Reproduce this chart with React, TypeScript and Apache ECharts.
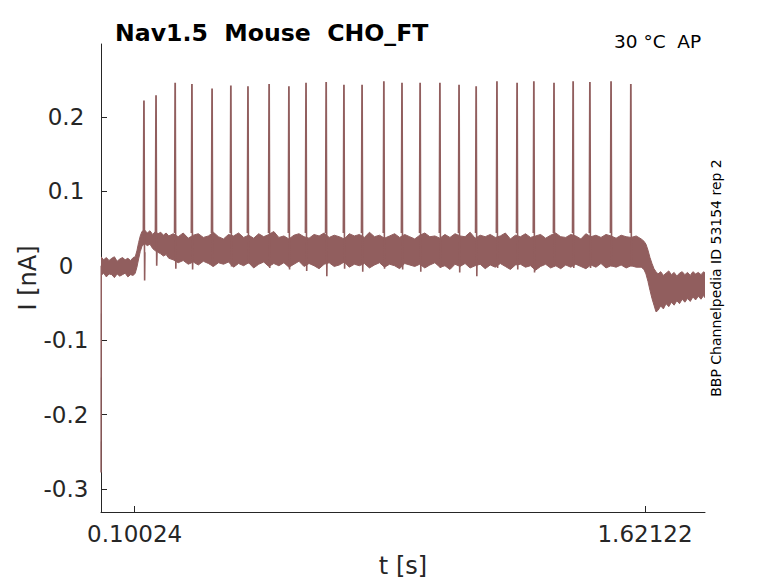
import React, { useEffect, useRef } from "react";
import * as echarts from "echarts";

const TRACE_COLOR = "#915e5e";
const AXIS_COLOR = "#262626";
const FONT = '"DejaVu Sans", sans-serif';

const xTicks = [0.10024, 1.62122];
const yTicks = [-0.3, -0.2, -0.1, 0, 0.1, 0.2];

// Action-potential-clamp spikes: time [s], peak [nA], trough [nA]
const spikeT = [0.128, 0.164, 0.221, 0.271, 0.331, 0.387, 0.438, 0.501, 0.56, 0.611, 0.671, 0.724, 0.778, 0.843, 0.897, 0.951, 1.01, 1.067, 1.118, 1.18, 1.24, 1.29, 1.35, 1.407, 1.457, 1.52, 1.579];
const spikePeak = [0.221, 0.228, 0.245, 0.243, 0.237, 0.241, 0.24, 0.243, 0.24, 0.245, 0.246, 0.242, 0.242, 0.247, 0.245, 0.245, 0.245, 0.242, 0.24, 0.247, 0.245, 0.247, 0.245, 0.247, 0.246, 0.247, 0.243];
const spikeTrough = [-0.02, 0.0, -0.004, -0.005, -0.001, -0.001, 0.003, -0.003, -0.005, -0.007, -0.014, -0.004, -0.008, -0.004, -0.005, -0.008, -0.003, -0.009, -0.014, -0.003, -0.005, -0.009, -0.001, -0.003, -0.003, -0.001, -0.001];

// Noise band of the overlaid traces: time [s], upper and lower envelope [nA]
const bandT = [
  0, 0.008, 0.016, 0.024, 0.032, 0.04, 0.048, 0.056, 0.064, 0.072, 0.08, 0.088, 0.096, 0.102, 0.107, 0.112, 0.117, 0.122, 0.13, 0.138, 0.146, 0.154, 0.162, 0.17, 0.178, 0.186, 0.194, 0.202,
  0.215, 0.23, 0.245, 0.26, 0.275, 0.29, 0.305, 0.32, 0.335, 0.35,
  0.365, 0.38, 0.395, 0.41, 0.425, 0.44, 0.455, 0.47, 0.485, 0.5,
  0.515, 0.53, 0.545, 0.56, 0.575, 0.59, 0.605, 0.62, 0.635, 0.65,
  0.665, 0.68, 0.695, 0.71, 0.725, 0.74, 0.755, 0.77, 0.785, 0.8,
  0.815, 0.83, 0.845, 0.86, 0.875, 0.89, 0.905, 0.92, 0.935, 0.95,
  0.965, 0.98, 0.995, 1.01, 1.025, 1.04, 1.055, 1.07, 1.085, 1.1,
  1.115, 1.13, 1.145, 1.16, 1.175, 1.19, 1.205, 1.22, 1.235, 1.25,
  1.265, 1.28, 1.295, 1.31, 1.325, 1.34, 1.355, 1.37, 1.385, 1.4,
  1.415, 1.43, 1.445, 1.46, 1.475, 1.49, 1.505, 1.52, 1.535, 1.55,
  1.565, 1.58, 1.595,
  1.61, 1.618, 1.624, 1.63, 1.636, 1.642, 1.648, 1.654, 1.66, 1.668, 1.676, 1.684, 1.692, 1.7, 1.708, 1.716, 1.724, 1.732, 1.74, 1.748, 1.756, 1.764, 1.772, 1.78, 1.788, 1.796, 1.8,
];
const bandHi = [
  0.012, 0.008, 0.011, 0.007, 0.01, 0.012, 0.006, 0.009, 0.011, 0.008, 0.01, 0.007, 0.011, 0.012, 0.02, 0.031, 0.04, 0.046, 0.048, 0.044, 0.047, 0.042, 0.046, 0.043, 0.045, 0.041, 0.044, 0.04,
  0.043, 0.039, 0.044, 0.037, 0.041, 0.043, 0.038, 0.04, 0.045, 0.039,
  0.036, 0.042, 0.04, 0.044, 0.038, 0.041, 0.037, 0.043, 0.039, 0.042,
  0.046, 0.038, 0.04, 0.036, 0.041, 0.043, 0.039, 0.037, 0.042, 0.04,
  0.044, 0.038, 0.041, 0.039, 0.036, 0.043, 0.04, 0.042, 0.038, 0.045,
  0.039, 0.041, 0.037, 0.04, 0.043, 0.038, 0.042, 0.039, 0.036, 0.041,
  0.044, 0.039, 0.04, 0.037, 0.042, 0.038, 0.043, 0.04, 0.039, 0.045,
  0.037, 0.041, 0.039, 0.042, 0.038, 0.04, 0.044, 0.036, 0.041, 0.039,
  0.043, 0.038, 0.04, 0.042, 0.037, 0.041, 0.044, 0.039, 0.038, 0.042,
  0.04, 0.036, 0.043, 0.039, 0.041, 0.038, 0.042, 0.04, 0.037, 0.041,
  0.039, 0.038, 0.04,
  0.036, 0.033, 0.029, 0.021, 0.011, 0.003, -0.004, -0.008, -0.011, -0.008, -0.013, -0.01, -0.007, -0.012, -0.009, -0.014, -0.01, -0.008, -0.012, -0.009, -0.013, -0.008, -0.011, -0.009, -0.012, -0.008, -0.01,
];
const bandLo = [
  -0.013, -0.01, -0.015, -0.011, -0.012, -0.016, -0.011, -0.014, -0.012, -0.01, -0.015, -0.012, -0.013, -0.01, -0.002, 0.009, 0.019, 0.026, 0.03, 0.027, 0.029, 0.023, 0.02, 0.018, 0.016, 0.013, 0.015, 0.01,
  0.008, 0.004, 0.007, 0.002, 0.005, 0.001, 0.006, 0.003, -0.001, 0.004,
  0.002, 0.005, -0.002, 0.003, 0.0, 0.004, -0.003, 0.002, 0.005, -0.001,
  0.003, 0.0, 0.004, -0.002, 0.002, 0.006, -0.001, 0.003, 0.0, -0.004,
  0.002, 0.004, -0.001, 0.001, 0.005, -0.002, 0.002, 0.0, 0.003, -0.003,
  0.001, 0.004, -0.002, 0.002, 0.0, -0.004, 0.003, 0.001, -0.001, 0.002,
  -0.003, 0.001, 0.004, -0.002, 0.0, -0.005, 0.002, -0.001, 0.003, -0.003,
  0.0, 0.002, -0.004, 0.001, -0.002, 0.003, -0.001, -0.005, 0.001, 0.002,
  -0.002, 0.0, -0.006, -0.001, 0.002, -0.003, 0.0, -0.004, 0.001, -0.002,
  0.002, -0.001, -0.004, 0.001, -0.002, 0.003, -0.003, 0.0, -0.002, 0.001,
  -0.003, 0.0, -0.002,
  -0.002, -0.005, -0.011, -0.021, -0.033, -0.044, -0.053, -0.062, -0.06, -0.054, -0.058, -0.051, -0.055, -0.049, -0.053, -0.047, -0.051, -0.045, -0.049, -0.044, -0.048, -0.042, -0.046, -0.041, -0.045, -0.04, -0.043,
];

// Capacitive transient at the start of the sweep
const transientT = [0.0002, 0.0008];
const transientV = [-0.278, 0.0];

export default function App() {
  const ref = useRef<HTMLDivElement>(null);

  useEffect(() => {
    if (!ref.current) return;
    const chart = echarts.init(ref.current, null, { renderer: "svg" });

    const bandSeries = {
      type: "custom",
      clip: true,
      z: 2,
      data: [[0, 0]],
      renderItem: (_params: any, api: any) => {
        const pts: number[][] = [];
        for (let i = 0; i < bandT.length; i++) pts.push(api.coord([bandT[i], bandHi[i]]));
        for (let i = bandT.length - 1; i >= 0; i--) pts.push(api.coord([bandT[i], bandLo[i]]));
        return {
          type: "polygon",
          shape: { points: pts },
          style: { fill: TRACE_COLOR, stroke: TRACE_COLOR, lineWidth: 1 },
        };
      },
    };

    const spikeSeries = {
      type: "custom",
      clip: true,
      z: 3,
      data: spikeT.map((t, i) => [t, spikePeak[i], spikeTrough[i]]),
      renderItem: (_params: any, api: any) => {
        const t = api.value(0);
        const p = api.value(1);
        const tr = api.value(2);
        const pts = [
          api.coord([t - 0.0018, 0.044]),
          api.coord([t - 0.0003, p]),
          api.coord([t + 0.0003, p]),
          api.coord([t + 0.0015, 0.034]),
          api.coord([t + 0.002, tr]),
          api.coord([t + 0.0028, 0.018]),
        ];
        return {
          type: "polyline",
          shape: { points: pts },
          style: { stroke: TRACE_COLOR, lineWidth: 1.6, fill: "none" },
        };
      },
    };

    const transientSeries = {
      type: "line",
      z: 3,
      symbol: "none",
      data: transientT.map((t, i) => [t, transientV[i]]),
      lineStyle: { color: TRACE_COLOR, width: 1.5 },
    };

    chart.setOption({
      animation: false,
      backgroundColor: "#ffffff",
      grid: { left: 101, right: 73, top: 44, bottom: 71, containLabel: false },
      xAxis: {
        type: "value",
        min: 0,
        max: 1.8,
        axisLine: { show: true, onZero: false, lineStyle: { color: AXIS_COLOR, width: 1 } },
        axisTick: { show: true, inside: true, length: 6, customValues: xTicks, lineStyle: { color: AXIS_COLOR } },
        axisLabel: {
          customValues: xTicks,
          formatter: (v: number) => String(v),
          fontSize: 23,
          fontFamily: FONT,
          color: AXIS_COLOR,
          margin: 10,
        },
        splitLine: { show: false },
      },
      yAxis: {
        type: "value",
        min: -0.331,
        max: 0.298,
        axisLine: { show: true, onZero: false, lineStyle: { color: AXIS_COLOR, width: 1 } },
        axisTick: { show: true, inside: true, length: 6, customValues: yTicks, lineStyle: { color: AXIS_COLOR } },
        axisLabel: {
          customValues: yTicks,
          formatter: (v: number) => String(v),
          fontSize: 23,
          fontFamily: FONT,
          color: AXIS_COLOR,
          align: "center",
          margin: 35,
        },
        splitLine: { show: false },
      },
      graphic: [
        {
          type: "text",
          x: 115,
          y: 33,
          style: { text: "Nav1.5  Mouse  CHO_FT", font: `bold 23.6px ${FONT}`, fill: "#000000", verticalAlign: "middle", align: "left" },
        },
        {
          type: "text",
          x: 614,
          y: 41,
          style: { text: "30 °C  AP", font: `18.5px ${FONT}`, fill: "#000000", verticalAlign: "middle", align: "left" },
        },
        {
          type: "text",
          x: 716,
          y: 278,
          rotation: Math.PI / 2,
          style: { text: "BBP Channelpedia ID 53154 rep 2", font: `14px ${FONT}`, fill: "#000000", verticalAlign: "middle", align: "center" },
        },
        {
          type: "text",
          x: 28,
          y: 278,
          rotation: Math.PI / 2,
          style: { text: "I [nA]", font: `24px ${FONT}`, fill: AXIS_COLOR, verticalAlign: "middle", align: "center" },
        },
        {
          type: "text",
          x: 403,
          y: 566,
          style: { text: "t [s]", font: `24px ${FONT}`, fill: AXIS_COLOR, verticalAlign: "middle", align: "center" },
        },
      ],
      series: [bandSeries, spikeSeries, transientSeries],
    });

    return () => chart.dispose();
  }, []);

  return (
    <div
      ref={ref}
      style={{ position: "fixed", left: 0, top: 0, width: 778, height: 583, background: "#ffffff" }}
    />
  );
}
